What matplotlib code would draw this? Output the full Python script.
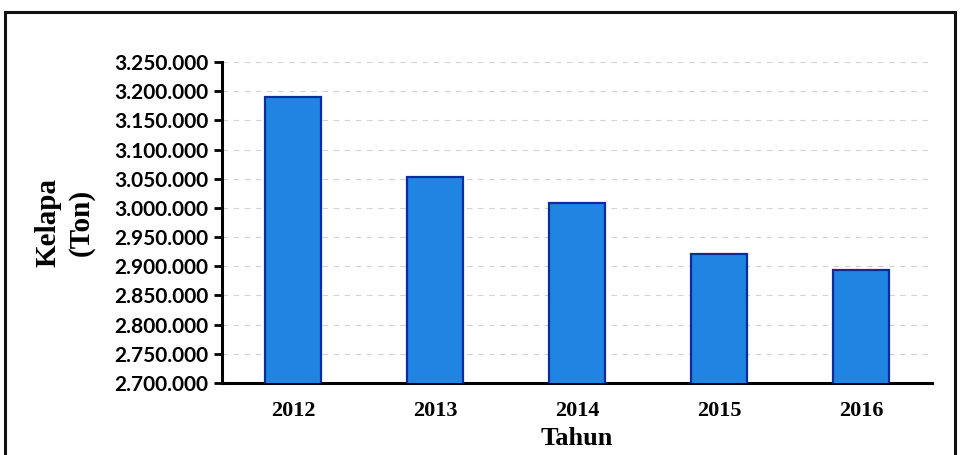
import matplotlib
matplotlib.use('Agg')
import matplotlib.pyplot as plt
from matplotlib.patches import Rectangle
from matplotlib.ticker import FuncFormatter, MultipleLocator

# Produksi kelapa per tahun (ton)
years = ['2012', '2013', '2014', '2015', '2016']
production = [3190000, 3053000, 3008000, 2921000, 2894000]

serif = ['Liberation Serif', 'DejaVu Serif']
sans = ['Lato', 'DejaVu Sans']


def thousands_dot(v, pos):
    return f'{int(round(v)):,}'.replace(',', '.')


def create_plot():
    fig = plt.figure(figsize=(9.61, 4.55), dpi=100)
    ax = fig.add_axes([222 / 961, 1 - 383 / 455, 710 / 961, 321 / 455])

    x = range(len(years))
    ax.bar(x, production, width=0.39, color='#1f84e2', edgecolor='#0b2d9c',
           linewidth=1.6, zorder=3)

    ax.set_ylim(2700000, 3250000)
    ax.set_xlim(-0.5, len(years) - 0.5)
    ax.yaxis.set_major_locator(MultipleLocator(50000))
    ax.yaxis.set_major_formatter(FuncFormatter(thousands_dot))
    ax.grid(axis='y', color='#d2d2d2', linestyle=(0, (5, 5)), linewidth=0.8, zorder=0)

    ax.set_xticks(list(x))
    ax.set_xticklabels(years, family=serif, fontweight='bold', fontsize=16)
    for lbl in ax.get_yticklabels():
        lbl.set_family(sans)
        lbl.set_fontweight('bold')
        lbl.set_fontsize(15)

    ax.tick_params(axis='y', direction='out', length=6, width=2, pad=4)
    ax.tick_params(axis='x', length=0, pad=13)

    for side in ('top', 'right'):
        ax.spines[side].set_visible(False)
    ax.spines['left'].set_linewidth(2.2)
    ax.spines['bottom'].set_linewidth(2.2)

    ax.set_xlabel('Tahun', family=serif, fontweight='bold', fontsize=19, labelpad=4)
    ax.set_ylabel('Kelapa\n(Ton)', family=serif, fontweight='bold', fontsize=21,
                  labelpad=14, linespacing=1.25)

    # frame around the whole chart
    fig.patches.append(Rectangle((5 / 961, -0.01), 950 / 961, 1 - 12 / 455 + 0.01,
                                 transform=fig.transFigure, fill=False,
                                 edgecolor='#111111', linewidth=2.2))

    fig.savefig('out.png', dpi=100)


if __name__ == '__main__':
    create_plot()
